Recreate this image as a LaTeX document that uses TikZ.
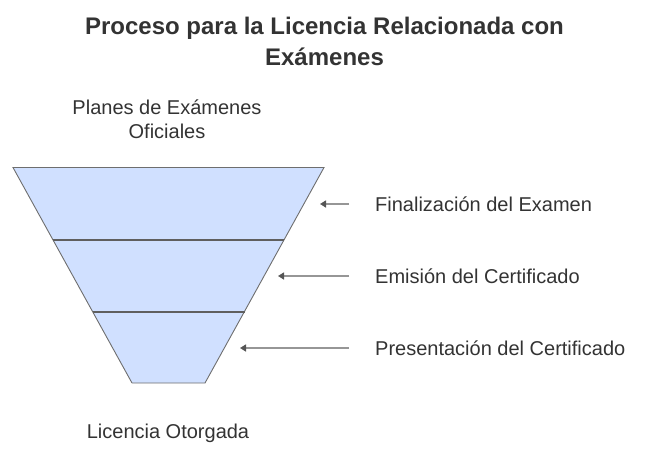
\documentclass[tikz,border=0pt]{standalone}
\usepackage{fontspec}
\setmainfont{Liberation Sans}
\usetikzlibrary{arrows.meta}

\definecolor{funnelfill}{RGB}{208,224,255}
\definecolor{edgegray}{RGB}{110,110,110}
\definecolor{bandgray}{RGB}{95,95,95}
\definecolor{textgray}{RGB}{51,51,51}
\definecolor{pointergray}{RGB}{150,150,150}
\definecolor{tipgray}{RGB}{85,85,85}

\tikzset{
  lab/.style={anchor=west, inner sep=0pt, text=textgray, font=\fontsize{20}{24}\selectfont},
  pointer/.style={pointergray, line width=1.6pt,
    -{Triangle[length=6pt,width=7pt,color=tipgray]}},
}

\begin{document}
\begin{tikzpicture}[x=1pt,y=-1pt]
\useasboundingbox (0,0) rectangle (649,456);
% title
\node[text=textgray, align=center, font=\bfseries\fontsize{24}{31}\selectfont] (title) at (324.5,41)
  {Proceso para la Licencia Relacionada con\\Exámenes};
% funnel
\coordinate (tl) at (13,167.5);
\coordinate (tr) at (324,167.5);
\coordinate (bl) at (132,383);
\coordinate (br) at (205,383);
\fill[funnelfill] (tl) -- (tr) -- (br) -- (bl) -- cycle;
\draw[edgegray, line width=0.9pt] (bl) -- (tl) -- (tr) -- (br) -- (bl);
\draw[bandgray, line width=2pt] (53,240) -- (284,240);
\draw[bandgray, line width=2pt] (93,312) -- (245,312);
\node[text=textgray, align=center, font=\fontsize{20}{24}\selectfont] (top) at (167,119)
  {Planes de Exámenes\\Oficiales};
\node[text=textgray, font=\fontsize{20}{24}\selectfont] (bottom) at (168,433) {Licencia Otorgada};
% steps
\foreach \i/\y/\xt/\txt in {1/204/320/{Finalización del Examen},
                            2/276/278/{Emisión del Certificado},
                            3/348/240/{Presentación del Certificado}} {
  \node[lab] (step\i) at (375,\y) {\txt};
  \coordinate (from\i) at (349,\y);
  \coordinate (to\i) at (\xt,\y);
  \draw[pointer] (from\i) -- (to\i);
}
\end{tikzpicture}
\end{document}
